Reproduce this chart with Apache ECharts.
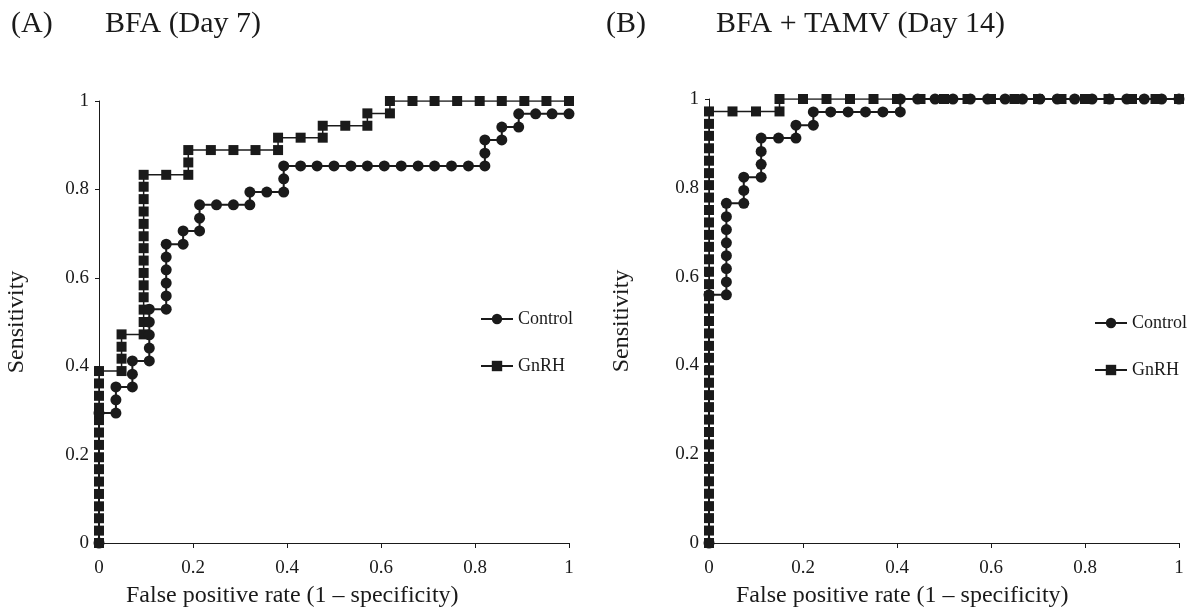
<!DOCTYPE html>
<html>
<head>
<meta charset="utf-8">
<script src="https://cdn.jsdelivr.net/npm/echarts@6/dist/echarts.min.js"></script>
<style>
html, body { margin: 0; padding: 0; background: #fff; }
#main { width: 1188px; height: 611px; }
</style>
</head>
<body>
<div id="main"></div>
<script>
// ROC points: false positive rate / sensitivity
// (A) BFA day 7
var aControlFpr = [0, 0, 0.036, 0.036, 0.036, 0.071, 0.071, 0.071, 0.107, 0.107, 0.107, 0.107, 0.107,
    0.143, 0.143, 0.143, 0.143, 0.143, 0.143, 0.179, 0.179, 0.214, 0.214, 0.214, 0.25, 0.286, 0.321, 0.321,
    0.357, 0.393, 0.393, 0.393, 0.429, 0.464, 0.5, 0.536, 0.571, 0.607, 0.643, 0.679, 0.714, 0.75, 0.786,
    0.821, 0.821, 0.821, 0.857, 0.857, 0.893, 0.893, 0.929, 0.964, 1];
var aControlTpr = [0, 0.294, 0.294, 0.324, 0.353, 0.353, 0.382, 0.412, 0.412, 0.441, 0.471, 0.5, 0.529,
    0.529, 0.559, 0.588, 0.618, 0.647, 0.676, 0.676, 0.706, 0.706, 0.735, 0.765, 0.765, 0.765, 0.765, 0.794,
    0.794, 0.794, 0.824, 0.853, 0.853, 0.853, 0.853, 0.853, 0.853, 0.853, 0.853, 0.853, 0.853, 0.853, 0.853,
    0.853, 0.882, 0.912, 0.912, 0.941, 0.941, 0.971, 0.971, 0.971, 0.971];

var aGnrhFpr = [0, 0, 0, 0, 0, 0, 0, 0, 0, 0, 0, 0, 0, 0, 0,
    0.048, 0.048, 0.048, 0.048,
    0.095, 0.095, 0.095, 0.095, 0.095, 0.095, 0.095, 0.095, 0.095, 0.095, 0.095, 0.095, 0.095, 0.095,
    0.143, 0.19, 0.19, 0.19, 0.238, 0.286, 0.333, 0.381, 0.381, 0.429, 0.476, 0.476, 0.524, 0.571, 0.571,
    0.619, 0.619, 0.667, 0.714, 0.762, 0.81, 0.857, 0.905, 0.952, 1];
var aGnrhTpr = [0, 0.028, 0.056, 0.083, 0.111, 0.139, 0.167, 0.194, 0.222, 0.25, 0.278, 0.306, 0.333, 0.361, 0.389,
    0.389, 0.417, 0.444, 0.472,
    0.472, 0.5, 0.528, 0.556, 0.583, 0.611, 0.639, 0.667, 0.694, 0.722, 0.75, 0.778, 0.806, 0.833,
    0.833, 0.833, 0.861, 0.889, 0.889, 0.889, 0.889, 0.889, 0.917, 0.917, 0.917, 0.944, 0.944, 0.944, 0.972,
    0.972, 1, 1, 1, 1, 1, 1, 1, 1, 1];

// (B) BFA + TAMV day 14
var bControlFpr = [0, 0, 0.037, 0.037, 0.037, 0.037, 0.037, 0.037, 0.037, 0.037,
    0.074, 0.074, 0.074, 0.111, 0.111, 0.111, 0.111, 0.148, 0.185, 0.185, 0.222, 0.222,
    0.259, 0.296, 0.333, 0.37, 0.407, 0.407, 0.444, 0.481, 0.519, 0.556, 0.593, 0.63, 0.667,
    0.704, 0.741, 0.778, 0.815, 0.852, 0.889, 0.926, 0.963, 1];
var bControlTpr = [0, 0.559, 0.559, 0.588, 0.618, 0.647, 0.676, 0.706, 0.735, 0.765,
    0.765, 0.794, 0.824, 0.824, 0.853, 0.882, 0.912, 0.912, 0.912, 0.941, 0.941, 0.971,
    0.971, 0.971, 0.971, 0.971, 0.971, 1, 1, 1, 1, 1, 1, 1, 1,
    1, 1, 1, 1, 1, 1, 1, 1, 1];

var bGnrhFpr = [0, 0, 0, 0, 0, 0, 0, 0, 0, 0, 0, 0, 0, 0, 0, 0, 0, 0,
    0, 0, 0, 0, 0, 0, 0, 0, 0, 0, 0, 0, 0, 0, 0, 0, 0, 0,
    0.05, 0.1, 0.15, 0.15, 0.2, 0.25, 0.3, 0.35, 0.4, 0.45, 0.5, 0.55, 0.6, 0.65, 0.7, 0.75, 0.8,
    0.85, 0.9, 0.95, 1];
var bGnrhTpr = [0, 0.028, 0.056, 0.083, 0.111, 0.139, 0.167, 0.194, 0.222, 0.25, 0.278, 0.306, 0.333,
    0.361, 0.389, 0.417, 0.444, 0.472, 0.5, 0.528, 0.556, 0.583, 0.611, 0.639, 0.667, 0.694, 0.722,
    0.75, 0.778, 0.806, 0.833, 0.861, 0.889, 0.917, 0.944, 0.972,
    0.972, 0.972, 0.972, 1, 1, 1, 1, 1, 1, 1, 1, 1, 1, 1, 1, 1, 1, 1, 1, 1, 1];

var panelTitles = ['BFA (Day 7)', 'BFA + TAMV (Day 14)'];
var seriesNames = ['Control', 'GnRH'];

var ink = '#1a1a1a';
var serif = '"Liberation Serif", "Times New Roman", serif';

function pairs(xs, ys) {
    var out = [];
    for (var i = 0; i < xs.length; i++) out.push([xs[i], ys[i]]);
    return out;
}

function makeX(idx) {
    return {
        type: 'value', gridIndex: idx, min: 0, max: 1, interval: 0.2,
        axisLine: { lineStyle: { color: ink, width: 1 } },
        axisTick: { show: true, length: 5, lineStyle: { color: ink } },
        splitLine: { show: false },
        axisLabel: { color: ink, fontFamily: serif, fontSize: 19, margin: 16 }
    };
}
function makeY(idx, gap) {
    return {
        type: 'value', gridIndex: idx, min: 0, max: 1, interval: 0.2,
        name: 'Sensitivity', nameLocation: 'middle', nameGap: gap,
        nameTextStyle: { color: ink, fontFamily: serif, fontSize: 24 },
        axisLine: { show: true, lineStyle: { color: ink, width: 1 } },
        axisTick: { show: true, length: 4, lineStyle: { color: ink } },
        splitLine: { show: false },
        axisLabel: { color: ink, fontFamily: serif, fontSize: 19, margin: 10 }
    };
}
function ctrl(idx, xs, ys, z) {
    return {
        name: 'Control', type: 'line', xAxisIndex: idx, yAxisIndex: idx, z: z,
        data: pairs(xs, ys), symbol: 'circle', symbolSize: 11,
        itemStyle: { color: ink }, lineStyle: { color: ink, width: 2 }
    };
}
function gnrh(idx, xs, ys, z) {
    return {
        name: 'GnRH', type: 'line', xAxisIndex: idx, yAxisIndex: idx, z: z,
        data: pairs(xs, ys), symbol: 'rect', symbolSize: 10,
        itemStyle: { color: ink }, lineStyle: { color: ink, width: 1.5 }
    };
}
function legendAt(left, top) {
    return {
        left: left, top: top, orient: 'vertical', itemGap: 29,
        itemWidth: 32, itemHeight: 13, selectedMode: false,
        data: seriesNames,
        textStyle: { color: ink, fontFamily: serif, fontSize: 18 }
    };
}
function titleAt(text, left) {
    return {
        text: text, left: left, top: 9, padding: 0,
        textStyle: { color: ink, fontFamily: serif, fontSize: 30, fontWeight: 'normal' }
    };
}

var myChart = echarts.init(document.getElementById('main'));
var option = {
    animation: false,
    backgroundColor: '#fff',
    title: [
        titleAt('(A)', 11), titleAt(panelTitles[0], 105),
        titleAt('(B)', 606), titleAt(panelTitles[1], 716)
    ],
    legend: [legendAt(475, 305), legendAt(1089, 309)],
    grid: [
        { left: 99, right: 619, top: 101, bottom: 68 },
        { left: 709, right: 9, top: 99, bottom: 68 }
    ],
    xAxis: [makeX(0), makeX(1)],
    yAxis: [makeY(0, 70), makeY(1, 75)],
    graphic: [
        { type: 'text', left: 126, top: 584, style: { text: 'False positive rate (1 \u2013 specificity)', fill: ink, font: '24px ' + serif } },
        { type: 'text', left: 736, top: 584, style: { text: 'False positive rate (1 \u2013 specificity)', fill: ink, font: '24px ' + serif } }
    ],
    series: [
        gnrh(0, aGnrhFpr, aGnrhTpr, 2),
        ctrl(0, aControlFpr, aControlTpr, 3),
        ctrl(1, bControlFpr, bControlTpr, 2),
        gnrh(1, bGnrhFpr, bGnrhTpr, 3)
    ]
};
myChart.setOption(option);
</script>
</body>
</html>
